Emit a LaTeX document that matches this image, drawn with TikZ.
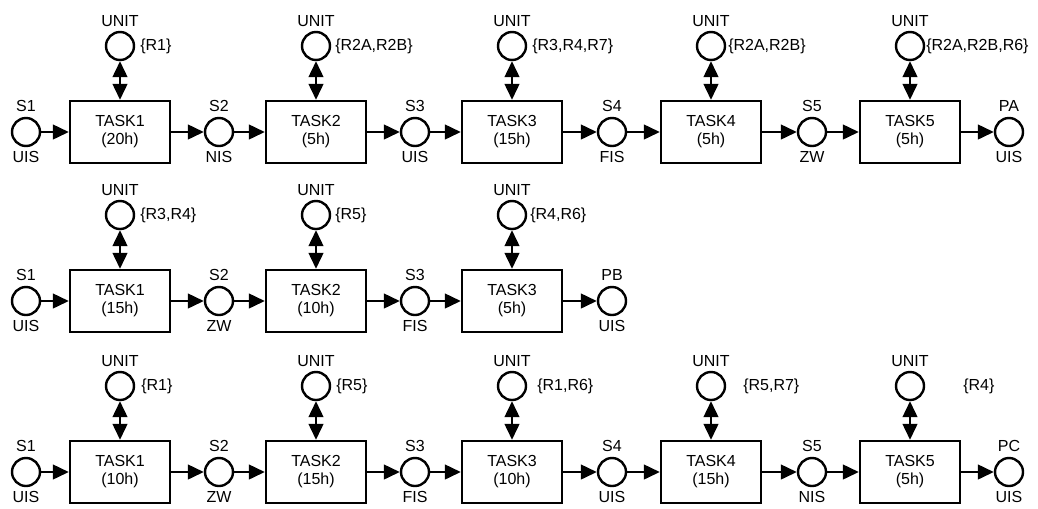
\documentclass[tikz,border=0pt]{standalone}
\usepackage{fontspec}
\setmainfont{Liberation Sans}
\usetikzlibrary{arrows.meta}
\tikzset{
  lbl/.style={inner sep=0pt, font=\fontsize{12}{14}\selectfont},
  state/.style={circle, draw, line width=1.8pt, minimum size=21pt, inner sep=0pt},
  taskbox/.style={rectangle, draw, line width=1.8pt, minimum width=75pt, minimum height=46.5pt, inner sep=0pt, align=center, font=\fontsize{12}{13.5}\selectfont},
  flow/.style={line width=1.8pt, -{Triangle[length=12pt,width=11pt]}},
  biarrow/.style={line width=1.8pt, {Triangle[length=12pt,width=11pt]}-{Triangle[length=12pt,width=11pt]}},
}
% state: name, x, y, top label, bottom label
\newcommand\stg[5]{%
  \node[state] (#1) at (#2,#3) {};
  \node[lbl] (#1t) at (#2,#3-26) {#4};
  \node[lbl] (#1b) at (#2,#3+25) {#5};
}
% task: name, x, y, title, time, resources, resource x-offset
\newcommand\tsk[7]{%
  \node[taskbox] (#1) at (#2,#3) {#4\\(#5)};
  \node[state] (#1u) at (#2,#3-86) {};
  \node[lbl] (#1ut) at (#2,#3-111) {UNIT};
  \node[lbl, anchor=west] (#1r) at (#2+#7,#3-86) {#6};
  \draw[biarrow] (#1u) -- (#1);
}
\begin{document}
\begin{tikzpicture}[x=0.75pt, y=-0.75pt]
\useasboundingbox (0,0) rectangle (1038,508);
% Row A
\stg{aS1}{26}{132}{S1}{UIS}
\tsk{aT1}{120}{132}{TASK1}{20h}{\{R1\}}{20}
\stg{aS2}{219}{132}{S2}{NIS}
\tsk{aT2}{316}{132}{TASK2}{5h}{\{R2A,R2B\}}{19}
\stg{aS3}{415}{132}{S3}{UIS}
\tsk{aT3}{512}{132}{TASK3}{15h}{\{R3,R4,R7\}}{20}
\stg{aS4}{612}{132}{S4}{FIS}
\tsk{aT4}{711}{132}{TASK4}{5h}{\{R2A,R2B\}}{17}
\stg{aS5}{812}{132}{S5}{ZW}
\tsk{aT5}{910}{132}{TASK5}{5h}{\{R2A,R2B,R6\}}{16}
\stg{aP}{1009}{132}{PA}{UIS}
\draw[flow] (aS1) -- (aT1);
\draw[flow] (aT1) -- (aS2);
\draw[flow] (aS2) -- (aT2);
\draw[flow] (aT2) -- (aS3);
\draw[flow] (aS3) -- (aT3);
\draw[flow] (aT3) -- (aS4);
\draw[flow] (aS4) -- (aT4);
\draw[flow] (aT4) -- (aS5);
\draw[flow] (aS5) -- (aT5);
\draw[flow] (aT5) -- (aP);
% Row B
\stg{bS1}{26}{301}{S1}{UIS}
\tsk{bT1}{120}{301}{TASK1}{15h}{\{R3,R4\}}{20}
\stg{bS2}{219}{301}{S2}{ZW}
\tsk{bT2}{316}{301}{TASK2}{10h}{\{R5\}}{19}
\stg{bS3}{415}{301}{S3}{FIS}
\tsk{bT3}{512}{301}{TASK3}{5h}{\{R4,R6\}}{18}
\stg{bP}{612}{301}{PB}{UIS}
\draw[flow] (bS1) -- (bT1);
\draw[flow] (bT1) -- (bS2);
\draw[flow] (bS2) -- (bT2);
\draw[flow] (bT2) -- (bS3);
\draw[flow] (bS3) -- (bT3);
\draw[flow] (bT3) -- (bP);
% Row C
\stg{cS1}{26}{472}{S1}{UIS}
\tsk{cT1}{120}{472}{TASK1}{10h}{\{R1\}}{21}
\stg{cS2}{219}{472}{S2}{ZW}
\tsk{cT2}{316}{472}{TASK2}{15h}{\{R5\}}{20}
\stg{cS3}{415}{472}{S3}{FIS}
\tsk{cT3}{512}{472}{TASK3}{10h}{\{R1,R6\}}{25}
\stg{cS4}{612}{472}{S4}{UIS}
\tsk{cT4}{711}{472}{TASK4}{15h}{\{R5,R7\}}{32}
\stg{cS5}{812}{472}{S5}{NIS}
\tsk{cT5}{910}{472}{TASK5}{5h}{\{R4\}}{53}
\stg{cP}{1009}{472}{PC}{UIS}
\draw[flow] (cS1) -- (cT1);
\draw[flow] (cT1) -- (cS2);
\draw[flow] (cS2) -- (cT2);
\draw[flow] (cT2) -- (cS3);
\draw[flow] (cS3) -- (cT3);
\draw[flow] (cT3) -- (cS4);
\draw[flow] (cS4) -- (cT4);
\draw[flow] (cT4) -- (cS5);
\draw[flow] (cS5) -- (cT5);
\draw[flow] (cT5) -- (cP);
\end{tikzpicture}
\end{document}
